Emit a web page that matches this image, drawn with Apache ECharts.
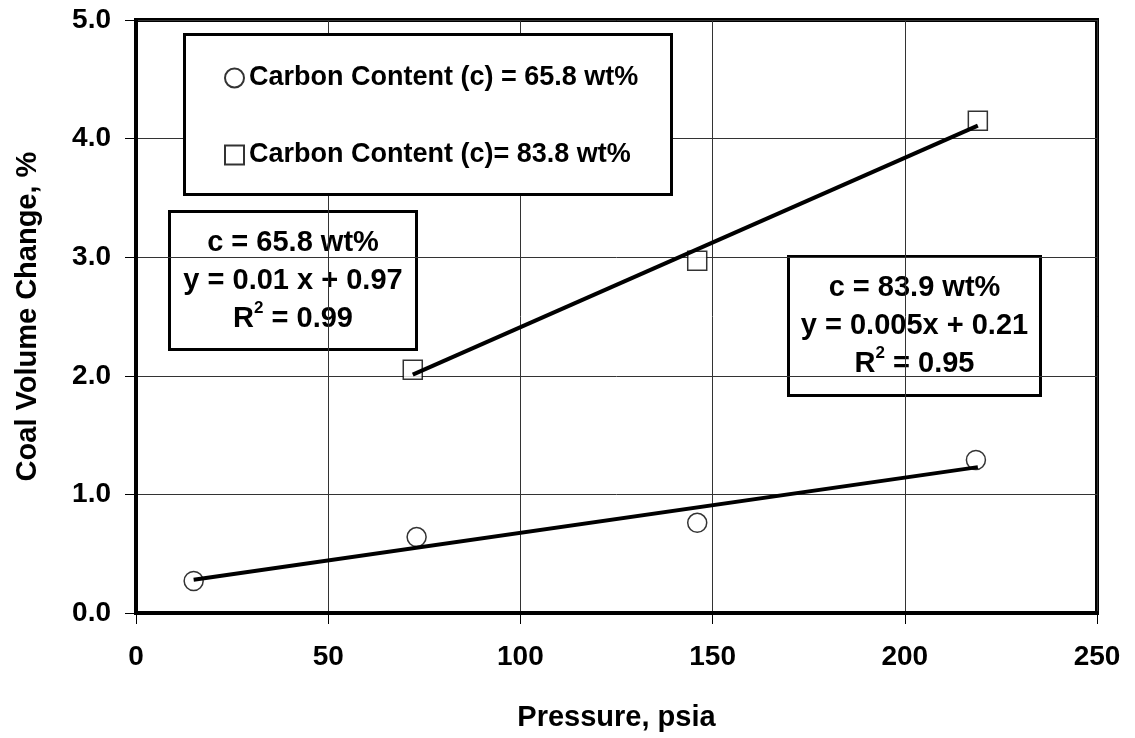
<!DOCTYPE html>
<html>
<head>
<meta charset="utf-8">
<script src="https://cdn.jsdelivr.net/npm/echarts@6/dist/echarts.min.js"></script>
<style>
html,body{margin:0;padding:0;background:#fff;}
#chart{width:1135px;height:738px;}
</style>
</head>
<body>
<div id="chart"></div>
<script>
// ---- data ----
const seriesNames = ['Carbon Content (c) = 65.8 wt%', 'Carbon Content (c)= 83.8 wt%'];
const lowX = [15, 73, 146, 218.5];
const lowY = [0.27, 0.64, 0.76, 1.29];
const highX = [72, 146, 219];
const highY = [2.05, 2.97, 4.15];
const fitLowX = [15, 219];
const fitLowY = [0.28, 1.23];
const fitHighX = [72, 219];
const fitHighY = [2.01, 4.11];
const xTitle = 'Pressure, psia';
const yTitle = 'Coal Volume Change, %';
const note1 = ['c = 65.8 wt%', 'y = 0.01 x + 0.97', '0.99'];
const note2 = ['c = 83.9 wt%', 'y = 0.005x + 0.21', '0.95'];

const FONT = '"Liberation Sans", Arial, sans-serif';
const zip = (xs, ys) => xs.map((x, i) => [x, ys[i]]);

const chart = echarts.init(document.getElementById('chart'), null, {renderer: 'canvas'});

function noteGraphic(lines, x, y, w, h) {
  return {
    type: 'group', left: x, top: y, z: 100,
    children: [
      {type: 'rect', shape: {x: 0, y: 0, width: w, height: h},
       style: {fill: '#fff', stroke: '#000', lineWidth: 3}},
      {type: 'text', x: w / 2, y: h / 2,
       style: {
         text: '{a|' + lines[0] + '}\n{a|' + lines[1] + '}\n{a|R}{sup|2}{a| = ' + lines[2] + '}',
         align: 'center', verticalAlign: 'middle',
         rich: {
           a: {fontFamily: FONT, fontWeight: 'bold', fontSize: 29, lineHeight: 38, fill: '#000'},
           sup: {fontFamily: FONT, fontWeight: 'bold', fontSize: 17, lineHeight: 38, fill: '#000', verticalAlign: 'top'}
         }
       }}
    ]
  };
}

const axisText = {fontFamily: FONT, fontWeight: 'bold', fontSize: 28, color: '#000'};

chart.setOption({
  animation: false,
  backgroundColor: '#fff',
  grid: {left: 136, top: 20, right: 38, bottom: 125, show: true, borderColor: '#000', borderWidth: 4,
         backgroundColor: 'transparent', containLabel: false, outerBoundsMode: 'none'},
  xAxis: {
    type: 'value', min: 0, max: 250, interval: 50,
    name: xTitle, nameLocation: 'middle', nameGap: 90,
    nameTextStyle: {fontFamily: FONT, fontWeight: 'bold', fontSize: 29, color: '#000'},
    axisLine: {show: true, onZero: false, lineStyle: {color: '#000', width: 4}},
    axisTick: {show: true, inside: false, length: 11, lineStyle: {color: '#000', width: 1}},
    axisLabel: Object.assign({margin: 30}, axisText),
    splitLine: {show: true, lineStyle: {color: '#333', width: 1}}
  },
  yAxis: {
    type: 'value', min: 0, max: 5, interval: 1,
    name: yTitle, nameLocation: 'middle', nameGap: 94, nameRotate: 90,
    nameTextStyle: {fontFamily: FONT, fontWeight: 'bold', fontSize: 29, color: '#000'},
    axisLine: {show: true, onZero: false, lineStyle: {color: '#000', width: 4}},
    axisTick: {show: true, inside: false, length: 11, lineStyle: {color: '#000', width: 1}},
    axisLabel: Object.assign({margin: 25, formatter: v => v.toFixed(1)}, axisText),
    splitLine: {show: true, lineStyle: {color: '#333', width: 1}}
  },
  legend: {
    orient: 'vertical', left: 219, top: 58,
    itemWidth: 19, itemHeight: 19, itemGap: 47,
    data: seriesNames,
    textStyle: {fontFamily: FONT, fontWeight: 'bold', fontSize: 27, color: '#000', lineHeight: 30},
    z: 101
  },
  graphic: [
    {type: 'rect', left: 183, top: 33, z: 99,
     shape: {width: 487, height: 160},
     style: {fill: '#fff', stroke: '#000', lineWidth: 3}},
    noteGraphic(note1, 168, 210, 247, 138),
    noteGraphic(note2, 787, 255, 252, 139)
  ],
  series: [
    {name: seriesNames[0], type: 'scatter', symbol: 'circle', symbolSize: 19, z: 2,
     itemStyle: {color: '#fff', borderColor: '#000', borderWidth: 1.5},
     data: zip(lowX, lowY)},
    {name: seriesNames[1], type: 'scatter', symbol: 'rect', symbolSize: 19, z: 2,
     itemStyle: {color: '#fff', borderColor: '#000', borderWidth: 1.5},
     data: zip(highX, highY)},
    {name: 'fitLow', type: 'line', showSymbol: false, symbol: 'none', z: 3,
     lineStyle: {color: '#000', width: 4}, data: zip(fitLowX, fitLowY)},
    {name: 'fitHigh', type: 'line', showSymbol: false, symbol: 'none', z: 3,
     lineStyle: {color: '#000', width: 4}, data: zip(fitHighX, fitHighY)}
  ]
});
</script>
</body>
</html>
